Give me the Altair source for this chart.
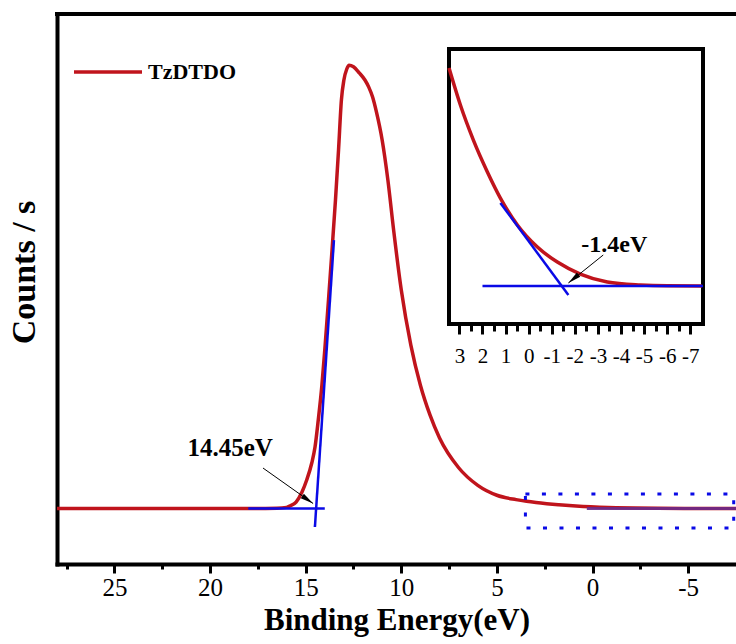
import altair as alt
import pandas as pd

# ---------------- data ----------------
SERIES = "TzDTDO"
ENERGY = [28, 22, 18, 16.5, 16.0, 15.82, 15.5, 15.19, 14.945, 14.68,
          14.51, 14.34, 14.15, 14.0, 13.805, 13.62, 13.44, 13.28, 13.13, 13.0,
          12.85, 12.73, 12.5, 12.2, 11.9, 11.7, 11.5, 11.3, 11.0, 10.7,
          10.4, 10.0, 9.5, 9.0, 8.5, 8.0, 7.0, 6.0, 5.0, 4.0,
          3.45, 2.957, 2.394, 1.788, 1.225, 0.489, -0.377, -1.242, -2.238, -3.407,
          -4.835, -6.0, -7.5]
COUNTS = [10.1, 10.1, 10.1, 10.15, 10.3, 10.55, 11.27, 13.1, 15.27, 18.36,
          21.27, 26.18, 32.5, 38.9, 48.0, 57.1, 66.2, 75.3, 84.4, 88.0,
          90.0, 90.7, 90.4, 89.3, 88.0, 86.7, 84.9, 82.2, 77.1, 69.8,
          60.7, 49.8, 39.8, 32.5, 27.1, 22.9, 17.5, 14.3, 12.5, 11.7,
          11.394, 11.174, 10.966, 10.777, 10.622, 10.462, 10.331, 10.242, 10.171, 10.124,
          10.106, 10.101, 10.1]
assert len(ENERGY) == len(COUNTS)

MAIN_X_DOMAIN = [28, -7.5]
MAIN_Y_DOMAIN = [0, 100]
MAIN_XTICKS = [27.5, 25, 22.5, 20, 17.5, 15, 12.5, 10, 7.5, 5, 2.5, 0, -2.5, -5]

INSET_X_DOMAIN = [3.45, -7.55]
INSET_Y_DOMAIN = [9.8745, 11.5065]
INSET_XTICKS = [3, 2.5, 2, 1.5, 1, 0.5, 0, -0.5, -1, -1.5, -2, -2.5, -3, -3.5,
                -4, -4.5, -5, -5.5, -6, -6.5, -7]

# tangent / baseline segments (energy, counts) -> (energy2, counts2)
MAIN_SEG_E = [14.516, 18.0]
MAIN_SEG_C = [6.73, 10.1]
MAIN_SEG_E2 = [13.52, 14.0]
MAIN_SEG_C2 = [58.9, 10.1]
OVERLAY_E = [0.3]
OVERLAY_C = [10.1]
OVERLAY_E2 = [-7.5]
OVERLAY_C2 = [10.1]
ZOOM_BOX = [3.51, 6.55, -7.38, 12.73]  # E, C, E2, C2

INSET_SEG_E = [1.225, 2.0]
INSET_SEG_C = [10.593, 10.1]
INSET_SEG_E2 = [-1.72, -7.55]
INSET_SEG_C2 = [10.047, 10.1]

MAIN_ARROW = [17.23, 17.45, 14.61, 11.0, 125]   # from E,C to E,C, angle
INSET_ARROW = [-3.23, 10.284, -1.72, 10.118, 231]
MAIN_LABEL = ["14.45eV", 18.95, 21.1]
INSET_LABEL = ["-1.4eV", -3.71, 10.343]

# ---------------- style ----------------
RED = "#c0141c"
BLUE = "#0a0ae6"
PURPLE = "#6a2a8c"
SERIF = "Liberation Serif"
W, H = 679, 550
ARROW_PATH = "M0,0L0.5,2.4L-0.5,2.4Z"

curve = pd.DataFrame({"E": ENERGY, "C": COUNTS, "series": SERIES})

mx = alt.Scale(domain=MAIN_X_DOMAIN, nice=False, zero=False)
my = alt.Scale(domain=MAIN_Y_DOMAIN, nice=False, zero=False)

x_axis = alt.Axis(
    values=MAIN_XTICKS,
    labelExpr="datum.value % 5 === 0 ? '' + datum.value : ''",
    tickSize={"condition": {"test": "datum.value % 5 === 0", "value": 9}, "value": 5},
    tickWidth=3, tickColor="black",
    domainWidth=4, domainColor="black", domainCap="square",
    labelFont=SERIF, labelFontSize=25, labelColor="black", labelPadding=2,
    labelOverlap=False, labelFlush=False, grid=False,
    title="Binding Energy(eV)", titleFont=SERIF, titleFontSize=31,
    titleFontWeight="bold", titleColor="black", titlePadding=5,
)
y_axis = alt.Axis(
    ticks=False, labels=False, grid=False,
    domainWidth=4, domainColor="black", domainCap="square",
    title="Counts / s", titleFont=SERIF, titleFontSize=34,
    titleFontWeight="bold", titleColor="black",
    titleX=-33, titleY=258, titleAngle=270, titleAlign="center", titleBaseline="middle",
)

def MX(f):
    return alt.X(f, type="quantitative", scale=mx, axis=x_axis)

def MY(f):
    return alt.Y(f, type="quantitative", scale=my, axis=y_axis)

main_line = alt.Chart(curve).mark_line(strokeWidth=3.5, interpolate="monotone").encode(
    x=MX("E"), y=MY("C"),
    color=alt.Color("series:N", scale=alt.Scale(domain=[SERIES], range=[RED]),
                    legend=alt.Legend(title=None, orient="none", legendX=15, legendY=22,
                                      symbolType="stroke", symbolSize=4624,
                                      symbolStrokeWidth=3.5, labelFont=SERIF,
                                      labelFontSize=22, labelFontWeight="bold",
                                      labelColor="black", labelOffset=4, padding=0)),
)

seg_df = pd.DataFrame({"E": MAIN_SEG_E, "C": MAIN_SEG_C, "E2": MAIN_SEG_E2, "C2": MAIN_SEG_C2})
main_segs = alt.Chart(seg_df).mark_rule(color=BLUE, strokeWidth=2.5).encode(
    x=MX("E"), y=MY("C"), x2="E2:Q", y2="C2:Q")

ov_df = pd.DataFrame({"E": OVERLAY_E, "C": OVERLAY_C, "E2": OVERLAY_E2, "C2": OVERLAY_C2})
main_overlay = alt.Chart(ov_df).mark_rule(color=PURPLE, strokeWidth=3, opacity=0.9).encode(
    x=MX("E"), y=MY("C"), x2="E2:Q", y2="C2:Q")

box_df = pd.DataFrame({"E": [ZOOM_BOX[0]], "C": [ZOOM_BOX[1]], "E2": [ZOOM_BOX[2]], "C2": [ZOOM_BOX[3]]})
main_box = alt.Chart(box_df).mark_rect(fillOpacity=0, stroke=BLUE, strokeWidth=3,
                                       strokeDash=[4, 12.5]).encode(
    x=MX("E"), y=MY("C"), x2="E2:Q", y2="C2:Q")

marr_df = pd.DataFrame({"E": [MAIN_ARROW[0]], "C": [MAIN_ARROW[1]],
                        "E2": [MAIN_ARROW[2]], "C2": [MAIN_ARROW[3]], "A": [MAIN_ARROW[4]]})
main_arrow = alt.Chart(marr_df).mark_rule(color="black", strokeWidth=1).encode(
    x=MX("E"), y=MY("C"), x2="E2:Q", y2="C2:Q")
main_head = alt.Chart(marr_df).mark_point(shape=ARROW_PATH, filled=True, size=120,
                                          color="black", opacity=1).encode(
    x=MX("E2"), y=MY("C2"), angle=alt.Angle("A:Q", scale=None))

mlab_df = pd.DataFrame({"T": [MAIN_LABEL[0]], "E": [MAIN_LABEL[1]], "C": [MAIN_LABEL[2]]})
main_text = alt.Chart(mlab_df).mark_text(font=SERIF, fontSize=25, fontWeight="bold",
                                         color="black").encode(
    x=MX("E"), y=MY("C"), text="T:N")

top_border = alt.Chart(pd.DataFrame({"k": [0]})).mark_rule(
    color="black", strokeWidth=4, strokeCap="square").encode(
    x=alt.value(0), x2=alt.value(W), y=alt.value(0))

main = alt.layer(main_line, main_segs, main_box, main_overlay, main_arrow, main_head,
                 main_text, top_border)

# ---------------- inset ----------------
ix = alt.Scale(domain=INSET_X_DOMAIN, range=[392, 646], nice=False, zero=False)
iy = alt.Scale(domain=INSET_Y_DOMAIN, range=[310, 35], nice=False, zero=False)
inset_axis = alt.Axis(
    orient="bottom", offset=-240, values=INSET_XTICKS,
    labelExpr="datum.value % 1 === 0 ? '' + datum.value : ''",
    tickSize={"condition": {"test": "datum.value % 1 === 0", "value": 10}, "value": 7},
    tickWidth=3, tickColor="black", domain=False,
    labelFont=SERIF, labelFontSize=21, labelColor="black", labelPadding=11,
    labelOverlap=False, labelFlush=False, grid=False, title=None,
)

def IX(f):
    return alt.X(f, type="quantitative", scale=ix, axis=inset_axis)

def IY(f):
    return alt.Y(f, type="quantitative", scale=iy, axis=None)

ibox_df = pd.DataFrame({"E": [INSET_X_DOMAIN[0]], "C": [INSET_Y_DOMAIN[0]],
                        "E2": [INSET_X_DOMAIN[1]], "C2": [INSET_Y_DOMAIN[1]]})
inset_box = alt.Chart(ibox_df).mark_rect(fill="white", stroke="black", strokeWidth=4).encode(
    x=IX("E"), y=IY("C"), x2="E2:Q", y2="C2:Q")

inset_line = alt.Chart(curve).transform_filter(
    (alt.datum.E <= INSET_X_DOMAIN[0]) & (alt.datum.E >= INSET_X_DOMAIN[1])
).mark_line(color=RED, strokeWidth=3.5, interpolate="monotone").encode(
    x=IX("E"), y=IY("C"))

iseg_df = pd.DataFrame({"E": INSET_SEG_E, "C": INSET_SEG_C, "E2": INSET_SEG_E2, "C2": INSET_SEG_C2})
inset_segs = alt.Chart(iseg_df).mark_rule(color=BLUE, strokeWidth=2.5).encode(
    x=IX("E"), y=IY("C"), x2="E2:Q", y2="C2:Q")

iarr_df = pd.DataFrame({"E": [INSET_ARROW[0]], "C": [INSET_ARROW[1]],
                        "E2": [INSET_ARROW[2]], "C2": [INSET_ARROW[3]], "A": [INSET_ARROW[4]]})
inset_arrow = alt.Chart(iarr_df).mark_rule(color="black", strokeWidth=1).encode(
    x=IX("E"), y=IY("C"), x2="E2:Q", y2="C2:Q")
inset_head = alt.Chart(iarr_df).mark_point(shape=ARROW_PATH, filled=True, size=120,
                                           color="black", opacity=1).encode(
    x=IX("E2"), y=IY("C2"), angle=alt.Angle("A:Q", scale=None))

ilab_df = pd.DataFrame({"T": [INSET_LABEL[0]], "E": [INSET_LABEL[1]], "C": [INSET_LABEL[2]]})
inset_text = alt.Chart(ilab_df).mark_text(font=SERIF, fontSize=24, fontWeight="bold",
                                          color="black").encode(
    x=IX("E"), y=IY("C"), text="T:N")

inset = alt.layer(inset_box, inset_line, inset_segs, inset_arrow, inset_head, inset_text)

chart = alt.layer(main, inset).resolve_scale(
    x="independent", y="independent"
).properties(
    width=W, height=H, autosize="none",
    padding={"left": 57, "top": 14, "right": 0, "bottom": 80},
    background="white",
).configure(font=SERIF).configure_view(stroke=None).configure_axis(
    labelFont=SERIF, titleFont=SERIF
).configure_legend(labelFont=SERIF).configure_text(font=SERIF)

chart.save("out.html", embed_options={"renderer": "svg", "actions": False})
